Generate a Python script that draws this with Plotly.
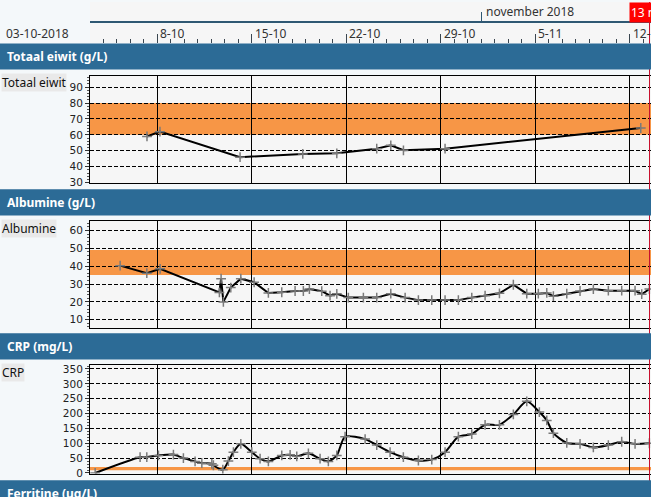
import plotly.graph_objects as go

W, H = 651, 497

# ---------------- data ----------------
eiwit_t = ['2018-10-07 06:00', '2018-10-08 05:00', '2018-10-14 03:30', '2018-10-18 19:00',
           '2018-10-21 07:30', '2018-10-24 06:30', '2018-10-25 07:30', '2018-10-26 06:00',
           '2018-10-29 08:00', '2018-11-12 20:00']
eiwit_v = [59, 62, 46, 48, 48.4, 51.3, 53.4, 50.3, 51.3, 64.3]

alb_t = ['2018-10-05 06:15', '2018-10-07 05:40', '2018-10-08 05:20', '2018-10-12 14:45',
         '2018-10-12 17:45', '2018-10-12 21:50', '2018-10-13 11:00', '2018-10-14 04:50',
         '2018-10-15 04:30', '2018-10-16 05:50', '2018-10-17 05:40', '2018-10-18 05:20',
         '2018-10-18 20:00', '2018-10-19 06:45', '2018-10-20 04:45', '2018-10-20 19:30',
         '2018-10-21 07:30', '2018-10-22 04:00', '2018-10-23 06:45', '2018-10-24 06:30',
         '2018-10-25 07:30', '2018-10-26 09:00', '2018-10-27 08:35', '2018-10-28 08:20',
         '2018-10-29 08:00', '2018-10-30 07:40', '2018-10-31 07:30', '2018-11-01 07:10',
         '2018-11-02 08:40', '2018-11-03 09:25', '2018-11-04 09:15', '2018-11-05 05:50',
         '2018-11-05 20:50', '2018-11-06 08:35', '2018-11-07 08:25', '2018-11-08 08:00',
         '2018-11-09 07:40', '2018-11-10 10:20', '2018-11-11 10:05', '2018-11-12 09:50',
         '2018-11-12 21:40', '2018-11-13 11:15']
alb_v = [40.3, 36.1, 38.5, 25.3, 33, 20, 28, 33, 31, 25, 25.4, 26.1, 26.1, 27.2, 26, 23.5,
         24.5, 22.4, 22.4, 22.4, 24.6, 22.4, 21, 21, 21, 21, 22.4, 23.5, 24.8, 29.6, 24.6,
         24.6, 25, 23.2, 24.6, 26.1, 27.2, 26.3, 26.3, 26.3, 24.3, 27.2]

crp_t = ['2018-10-03 09:50', '2018-10-06 17:45', '2018-10-07 05:40', '2018-10-08 02:20',
         '2018-10-09 05:00', '2018-10-09 22:45', '2018-10-10 19:30', '2018-10-11 07:30',
         '2018-10-12 01:15', '2018-10-12 04:05', '2018-10-12 20:50', '2018-10-13 06:45',
         '2018-10-13 15:40', '2018-10-14 04:50', '2018-10-15 00:20', '2018-10-15 15:05',
         '2018-10-16 05:50', '2018-10-17 05:40', '2018-10-17 20:30', '2018-10-18 08:20',
         '2018-10-19 05:00', '2018-10-20 01:45', '2018-10-20 16:30', '2018-10-21 07:30',
         '2018-10-21 22:15', '2018-10-23 09:50', '2018-10-24 06:30', '2018-10-25 06:15',
         '2018-10-26 05:50', '2018-10-27 08:35', '2018-10-28 08:20', '2018-10-29 08:00',
         '2018-10-30 07:40', '2018-10-31 07:30', '2018-11-01 07:10', '2018-11-02 08:40',
         '2018-11-03 09:25', '2018-11-04 09:15', '2018-11-05 07:40', '2018-11-05 20:50',
         '2018-11-06 08:35', '2018-11-07 08:25', '2018-11-08 08:00', '2018-11-09 07:40',
         '2018-11-10 10:20', '2018-11-11 10:05', '2018-11-12 09:50', '2018-11-13 11:15']
crp_v = [0, 53, 53, 59, 62, 50, 39, 33, 31, 26, 11, 40, 70, 98, 70, 48, 39, 59, 61, 56, 66,
         48, 39, 59, 122, 114, 94, 70, 53, 42, 45, 70, 122, 131, 162, 162, 197, 241, 205,
         177, 134, 101, 98, 86, 94, 105, 98, 100]

eiwit_ref = [60, 80]
alb_ref = [35, 49]
crp_ref = [9, 20]

header_titles = ['Totaal eiwit (g/L)', 'Albumine (g/L)', 'CRP (mg/L)', 'Ferritine (ug/L)']
panel_labels = ['Totaal eiwit', 'Albumine', 'CRP']

week_ticks = ['2018-10-08', '2018-10-15', '2018-10-22', '2018-10-29', '2018-11-05', '2018-11-12']
week_labels = ['8-10', '15-10', '22-10', '29-10', '5-11', '12-11']
month_ticks = ['2018-11-01']
month_labels = ['november 2018']
start_label = '03-10-2018'
now_time = '2018-11-13 11:30'
now_label = '13 nov'
x_range = ['2018-10-03 00:40', '2018-11-13 14:10']

# ---------------- style / layout helpers ----------------
def py(p):
    return 1 - p / H

BLUE = '#2c6b96'
ORANGE = '#f79646'
FONT = 'Noto Sans'
TICKFONT = dict(family='DejaVu Sans', size=10.5, color='#222')
XDOM = [90 / W, 1.0]

fig = go.Figure()

panel_series = [(eiwit_t, eiwit_v, 'lines'), (alb_t, alb_v, 'lines'), (crp_t, crp_v, 'spline')]
panel_frames = [(75, 184), (222.3, 331), (368.3, 478.3)]
panel_ranges = [[29.5, 97], [5.2, 65.2], [-2, 363]]
panel_dtick = [10, 10, 50]
panel_refs = [eiwit_ref, alb_ref, crp_ref]
header_tops = [42, 190, 336, 485]
HDR_H = 26.5

for i, (t, v, shape) in enumerate(panel_series):
    xa = 'x' if i == 0 else f'x{i+1}'
    ya = 'y' if i == 0 else f'y{i+1}'
    fig.add_trace(go.Scatter(
        x=t, y=v, xaxis=xa, yaxis=ya, mode='lines+markers',
        line=dict(color='black', width=2, shape='spline' if shape == 'spline' else 'linear',
                  smoothing=0.7),
        marker=dict(symbol='cross-thin', size=7, line=dict(color='#7a7a7a', width=1.5)),
        showlegend=False, hoverinfo='skip'))

layout = dict(
    width=W, height=H, margin=dict(l=0, r=0, t=0, b=0),
    paper_bgcolor='#f4f8fa', plot_bgcolor='#f6f6f6',
    showlegend=False, font=dict(family=FONT, size=12, color='#222'),
)

for i in range(3):
    sfx = '' if i == 0 else str(i + 1)
    top, bot = panel_frames[i]
    layout['xaxis' + sfx] = dict(
        domain=XDOM, anchor='y' + sfx, type='date', range=x_range,
        showgrid=True, gridcolor='black', gridwidth=1,
        tick0=week_ticks[0], dtick=7 * 86400000,
        showticklabels=False, ticks='', showline=True, linecolor='black', linewidth=1,
        mirror=True, zeroline=False)
    layout['yaxis' + sfx] = dict(
        domain=[py(bot), py(top)], anchor='x' + sfx, range=panel_ranges[i],
        dtick=panel_dtick[i], tick0=0, showgrid=True, gridcolor='black', gridwidth=1,
        griddash='4px,2px', zeroline=False, showline=True, linecolor='black', linewidth=1,
        ticks='outside', ticklen=4, tickcolor='#333', tickfont=TICKFONT,
        minor=dict(dtick=panel_dtick[i] / 5, ticks='outside', ticklen=2, tickcolor='#555',
                   showgrid=False),
        mirror=False)

# timeline day axis
layout['xaxis4'] = dict(domain=XDOM, anchor='y4', type='date', range=x_range,
                        showgrid=False, showline=False, zeroline=False,
                        tickvals=week_ticks, ticks='inside', ticklen=9, tickcolor='#3a4650',
                        showticklabels=False,
                        minor=dict(dtick=86400000, tick0=week_ticks[0], ticks='inside',
                                   ticklen=4, tickcolor='#3a4650', showgrid=False))
layout['yaxis4'] = dict(domain=[py(42), py(22)], anchor='x4', visible=False, range=[0, 1])
# timeline month axis
layout['xaxis5'] = dict(domain=XDOM, anchor='y5', type='date', range=x_range,
                        showgrid=False, showline=True, linecolor='#2f5873', linewidth=1.5,
                        zeroline=False, tickvals=month_ticks, ticks='inside', ticklen=9,
                        tickcolor='#2f5873', showticklabels=False)
layout['yaxis5'] = dict(domain=[py(19), 1], anchor='x5', visible=False, range=[0, 1])

fig.update_layout(**layout)

shapes = []
# reference bands
for i in range(3):
    sfx = '' if i == 0 else str(i + 1)
    shapes.append(dict(type='rect', xref='x' + sfx + ' domain', yref='y' + sfx,
                       x0=0, x1=1, y0=panel_refs[i][0], y1=panel_refs[i][1],
                       fillcolor=ORANGE, line=dict(width=0), layer='below'))
# now line
shapes.append(dict(type='line', xref='x', yref='paper', x0=now_time, x1=now_time,
                   y0=0, y1=1, line=dict(color='#c8102e', width=1), layer='above'))
# header bars
for top in header_tops:
    shapes.append(dict(type='rect', xref='paper', yref='paper', x0=0, x1=1,
                       y0=py(top + HDR_H), y1=py(top), fillcolor=BLUE,
                       line=dict(width=0), layer='above'))
fig.update_layout(shapes=shapes)

ann = []
for title, top in zip(header_titles, header_tops):
    ann.append(dict(text=f'<b>{title}</b>', xref='paper', yref='paper', x=5 / W,
                    y=py(top + HDR_H / 2), xanchor='left', yanchor='middle', showarrow=False,
                    font=dict(family=FONT, size=12, color='white')))
for lab, top in zip(panel_labels, header_tops[:3]):
    ann.append(dict(text=lab, xref='paper', yref='paper', x=1 / W, y=py(top + HDR_H + 4),
                    xanchor='left', yanchor='top', showarrow=False, bgcolor='#e9e9e9',
                    borderpad=0, font=dict(family=FONT, size=12, color='#111')))
for tv, lab in zip(week_ticks, week_labels):
    ann.append(dict(text=lab, xref='x4', yref='paper', x=tv, y=py(32),
                    xanchor='left', yanchor='middle', xshift=1, showarrow=False,
                    font=dict(family=FONT, size=12, color='#333')))
for tv, lab in zip(month_ticks, month_labels):
    ann.append(dict(text=lab, xref='x5', yref='paper', x=tv, y=py(10),
                    xanchor='left', yanchor='middle', xshift=3, showarrow=False,
                    font=dict(family=FONT, size=12, color='#333')))
ann.append(dict(text=start_label, xref='paper', yref='paper', x=4 / W, y=py(32),
                xanchor='left', yanchor='middle', showarrow=False,
                font=dict(family=FONT, size=12, color='#333')))
ann.append(dict(text=now_label, xref='x4', yref='paper', x=now_time, y=1,
                xanchor='center', yanchor='top', showarrow=False, bgcolor='#ff0000',
                borderpad=1, font=dict(family=FONT, size=12, color='white')))
fig.update_layout(annotations=ann)

fig.write_html('out.html', config={'displayModeBar': False},
               post_script="document.body.style.margin='0';document.body.style.overflow='hidden';")
